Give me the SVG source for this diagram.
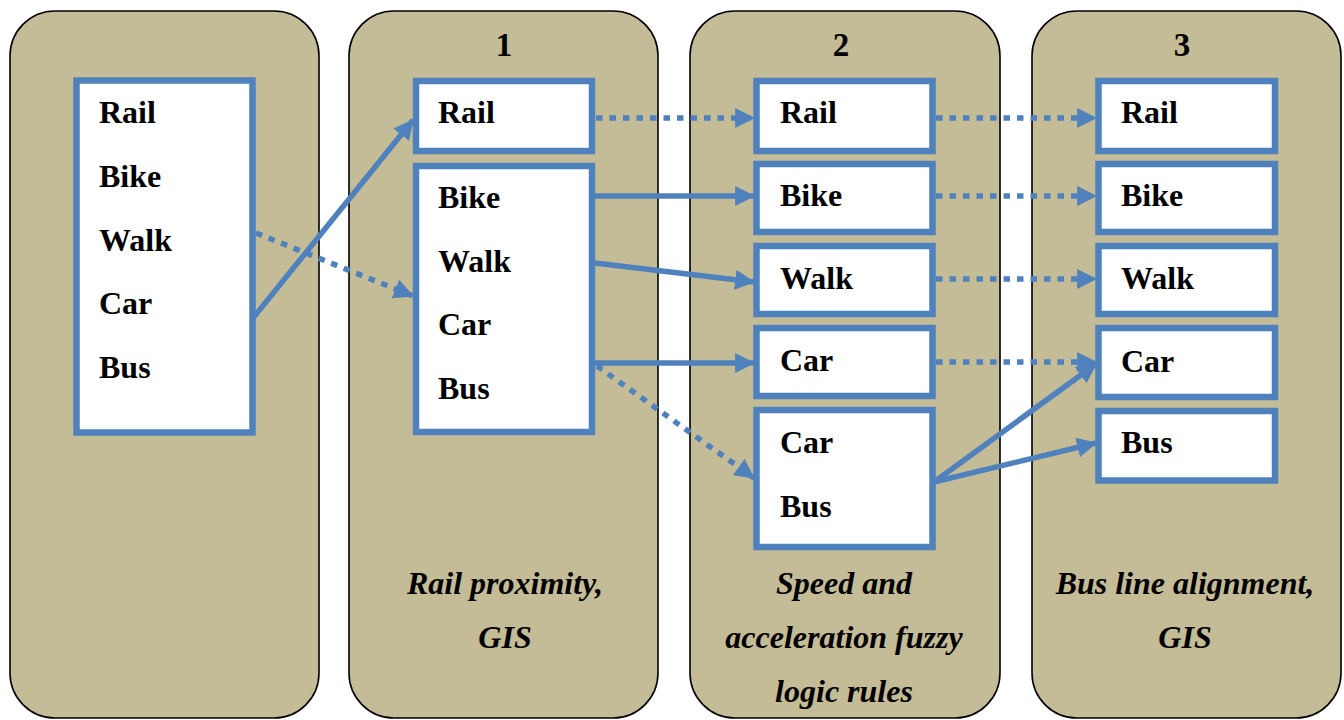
<svg xmlns="http://www.w3.org/2000/svg" width="1344" height="720" viewBox="0 0 1344 720">
<style>
.panel{fill:#c4bc96;stroke:#000;stroke-width:1.6}
.box{fill:#fff;stroke:#4f81bd;stroke-width:6.5}
.t{font-family:"Liberation Serif","Times New Roman",serif;font-weight:bold;font-size:32px;fill:#000}
.h{font-family:"Liberation Serif","Times New Roman",serif;font-weight:bold;font-size:33px;fill:#000;text-anchor:middle}
.c{font-family:"Liberation Serif","Times New Roman",serif;font-weight:bold;font-style:italic;font-size:32px;fill:#000;text-anchor:middle}
.ln{fill:none;stroke:#4f81bd;stroke-width:5.5;marker-end:url(#ah)}
.dot{stroke-dasharray:6.5 7}
</style>
<defs>
<marker id="ah" markerUnits="userSpaceOnUse" markerWidth="20" markerHeight="20" viewBox="0 0 18 18" refX="17" refY="9" orient="auto">
<path d="M0,0 L18,9 L0,18 z" fill="#4f81bd"/>
</marker>
</defs>
<g id="panel0">
<rect class="panel" x="10" y="11" width="309" height="707" rx="45"/>
<g id="p0box"><rect class="box" x="76.5" y="80.5" width="176" height="352"/>
<text class="t" x="99" y="123">Rail</text>
<text class="t" x="99" y="187">Bike</text>
<text class="t" x="99" y="251">Walk</text>
<text class="t" x="99" y="314">Car</text>
<text class="t" x="99" y="378">Bus</text></g>
</g>
<g id="panel1">
<rect class="panel" x="349" y="11" width="309" height="707" rx="45"/>
<text class="h" x="504" y="56">1</text>
<g id="p1rail"><rect class="box" x="416" y="81" width="176" height="70"/><text class="t" x="438" y="123">Rail</text></g>
<g id="p1multi"><rect class="box" x="416" y="166" width="176" height="266"/>
<text class="t" x="438" y="208">Bike</text>
<text class="t" x="438" y="272">Walk</text>
<text class="t" x="438" y="335">Car</text>
<text class="t" x="438" y="399">Bus</text></g>
<text class="c" x="505" y="594">Rail proximity,</text>
<text class="c" x="505" y="648">GIS</text>
</g>
<g id="panel2">
<rect class="panel" x="690" y="11" width="310" height="707" rx="45"/>
<text class="h" x="841" y="56">2</text>
<g id="p2rail"><rect class="box" x="756.5" y="81" width="176" height="70"/><text class="t" x="780" y="123">Rail</text></g>
<g id="p2bike"><rect class="box" x="756.5" y="164" width="176" height="68"/><text class="t" x="780" y="206">Bike</text></g>
<g id="p2walk"><rect class="box" x="756.5" y="246" width="176" height="68"/><text class="t" x="780" y="289">Walk</text></g>
<g id="p2car"><rect class="box" x="756.5" y="328" width="176" height="68"/><text class="t" x="780" y="371">Car</text></g>
<g id="p2carbus"><rect class="box" x="756.5" y="410" width="176" height="137"/><text class="t" x="780" y="453">Car</text><text class="t" x="780" y="517">Bus</text></g>
<text class="c" x="844" y="594">Speed and</text>
<text class="c" x="844" y="648">acceleration fuzzy</text>
<text class="c" x="844" y="702">logic rules</text>
</g>
<g id="panel3">
<rect class="panel" x="1032" y="11" width="309" height="707" rx="45"/>
<text class="h" x="1182" y="56">3</text>
<g id="p3rail"><rect class="box" x="1098.5" y="81" width="176.5" height="70"/><text class="t" x="1121" y="123">Rail</text></g>
<g id="p3bike"><rect class="box" x="1098.5" y="164" width="176.5" height="68"/><text class="t" x="1121" y="206">Bike</text></g>
<g id="p3walk"><rect class="box" x="1098.5" y="246" width="176.5" height="68"/><text class="t" x="1121" y="289">Walk</text></g>
<g id="p3car"><rect class="box" x="1098.5" y="328" width="176.5" height="69"/><text class="t" x="1121" y="372">Car</text></g>
<g id="p3bus"><rect class="box" x="1098.5" y="411" width="176.5" height="69.5"/><text class="t" x="1121" y="453">Bus</text></g>
<text class="c" x="1185" y="594">Bus line alignment,</text>
<text class="c" x="1185" y="648">GIS</text>
</g>
<g id="connectors">
<line class="ln" x1="253" y1="318" x2="413" y2="120"/>
<line class="ln dot" x1="256" y1="233" x2="413" y2="296"/>
<line class="ln dot" x1="596" y1="118" x2="754" y2="118"/>
<line class="ln" x1="595" y1="196" x2="754" y2="196"/>
<line class="ln" x1="595" y1="263" x2="754" y2="282"/>
<line class="ln" x1="595" y1="363" x2="754" y2="363"/>
<line class="ln dot" x1="597" y1="366" x2="754" y2="478"/>
<line class="ln dot" x1="936" y1="118" x2="1096" y2="118"/>
<line class="ln dot" x1="936" y1="196" x2="1096" y2="196"/>
<line class="ln dot" x1="936" y1="279" x2="1096" y2="279"/>
<line class="ln dot" x1="936" y1="362" x2="1096" y2="362"/>
<line class="ln" x1="934" y1="482" x2="1096" y2="364"/>
<line class="ln" x1="934" y1="482" x2="1096" y2="443"/>
</g>
</svg>
